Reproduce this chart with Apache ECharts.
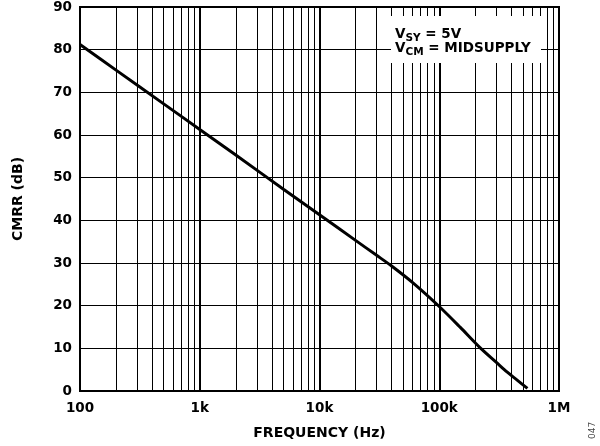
<!DOCTYPE html>
<html>
<head>
<meta charset="utf-8">
<script src="https://cdn.jsdelivr.net/npm/echarts@6/dist/echarts.min.js"></script>
<style>
  html, body { margin: 0; padding: 0; background: #fff; }
  #chart { width: 600px; height: 446px; }
</style>
</head>
<body>
<div id="chart"></div>
<script>
// CMRR vs. frequency
const freqHz = [100, 200, 500, 1000, 2000, 5000, 10000, 20000, 30000, 40000, 60000, 100000, 150000, 220000, 300000, 370000, 450000, 545000];
const cmrrDb = [81.2, 75.2, 67.3, 61.3, 55.3, 47.3, 41.3, 35.3, 31.8, 29.3, 25.4, 19.8, 14.9, 10.1, 6.7, 4.4, 2.5, 0.6];

const xTickValues = [100, 1000, 10000, 100000, 1000000];
const xTickLabels = ['100', '1k', '10k', '100k', '1M'];
const yTicks = [0, 10, 20, 30, 40, 50, 60, 70, 80, 90];

const FONT = '"DejaVu Sans", "Liberation Sans", Arial, sans-serif';

// minor log gridlines (2..9 within each decade)
const minorLines = [];
for (let d = 0; d < xTickValues.length - 1; d++) {
  for (let m = 2; m <= 9; m++) minorLines.push({ xAxis: xTickValues[d] * m });
}

const chart = echarts.init(document.getElementById('chart'), null, { renderer: 'canvas' });

chart.setOption({
  animation: false,
  backgroundColor: '#fff',
  grid: {
    left: 80, right: 41, top: 7, bottom: 55,
    show: true, borderColor: '#000', borderWidth: 2, backgroundColor: 'transparent'
  },
  xAxis: {
    type: 'log', logBase: 10, min: 100, max: 1000000,
    name: 'FREQUENCY (Hz)', nameLocation: 'middle', nameGap: 35,
    nameTextStyle: { fontFamily: FONT, fontWeight: 'bold', fontSize: 14, color: '#000' },
    axisLine: { show: true, lineStyle: { color: '#000', width: 2 } },
    axisTick: { show: false },
    axisLabel: {
      margin: 10, fontFamily: FONT, fontWeight: 'bold', fontSize: 13.5, color: '#000',
      formatter: v => { const i = xTickValues.indexOf(Math.round(v)); return i >= 0 ? xTickLabels[i] : ''; }
    },
    splitLine: { show: true, lineStyle: { color: '#000', width: 2 } }
  },
  yAxis: {
    type: 'value', min: yTicks[0], max: yTicks[yTicks.length - 1], interval: 10,
    name: 'CMRR (dB)', nameLocation: 'middle', nameGap: 55, nameRotate: 90,
    nameTextStyle: { fontFamily: FONT, fontWeight: 'bold', fontSize: 14, color: '#000' },
    axisLine: { show: true, lineStyle: { color: '#000', width: 2 } },
    axisTick: { show: false },
    axisLabel: { margin: 8, fontFamily: FONT, fontWeight: 'bold', fontSize: 13.5, color: '#000' },
    splitLine: { show: true, lineStyle: { color: '#000', width: 1 } }
  },
  series: [{
    type: 'line',
    data: freqHz.map((f, i) => [f, cmrrDb[i]]),
    showSymbol: false,
    smooth: 0.3,
    lineStyle: { color: '#000', width: 3 },
    z: 5,
    markLine: {
      silent: true, symbol: 'none', animation: false,
      label: { show: false },
      lineStyle: { color: '#000', width: 1, type: 'solid' },
      data: minorLines,
      z: 1
    }
  }],
  graphic: [
    {
      type: 'rect', z: 100,
      shape: { x: 391, y: 16, width: 150, height: 47 },
      style: { fill: '#fff' }
    },
    {
      type: 'text', z: 101, left: 395, top: 27,
      style: {
        text: '{v|V}{s|SY}{v| = 5V}\n{v|V}{s|CM}{v| = MIDSUPPLY}',
        fill: '#000',
        rich: {
          v: { fontFamily: FONT, fontWeight: 'bold', fontSize: 13.5, lineHeight: 14, fill: '#000' },
          s: { fontFamily: FONT, fontWeight: 'bold', fontSize: 10.5, lineHeight: 10, verticalAlign: 'bottom', fill: '#000', padding: [0, 0, -3, 0] }
        }
      }
    },
    {
      type: 'text', z: 101, x: 588, y: 439, rotation: Math.PI / 2,
      style: { text: '047', fill: '#444', fontFamily: FONT, fontSize: 9 }
    }
  ]
});
</script>
</body>
</html>
